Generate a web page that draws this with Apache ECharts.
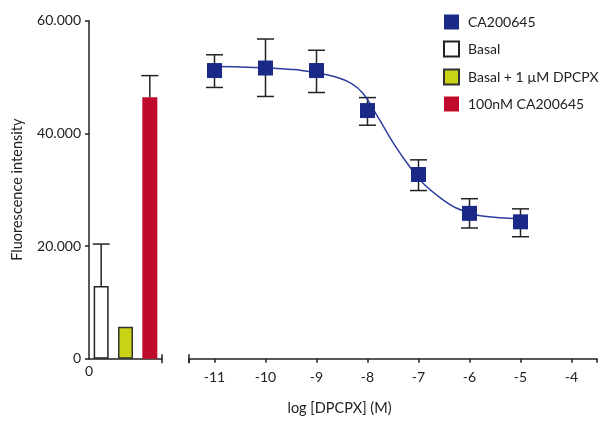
<!DOCTYPE html>
<html>
<head>
<meta charset="utf-8">
<script src="https://cdn.jsdelivr.net/npm/echarts@6/dist/echarts.min.js"></script>
<style>
html,body{margin:0;padding:0;background:#fff;}
#chart{width:600px;height:430px;}
</style>
</head>
<body>
<div id="chart"></div>
<script>
// ---- data ----
const barCategories = ['Basal', 'Basal + 1 µM DPCPX', '100nM CA200645'];
const barValues = [12900, 5650, 46400];
const barErrUpper = [20350, null, 50250];

const logConc = [-11, -10, -9, -8, -7, -6, -5];
const caMean = [51150, 51600, 51150, 44050, 32700, 25800, 24300];
const caErrHigh = [53950, 56750, 54750, 46350, 35300, 28400, 26600];
const caErrLow = [48150, 46550, 47250, 41450, 29850, 23200, 21650];

const fitX = [-11, -10.5, -10, -9.5, -9.29, -9, -8.64, -8.32, -8.09, -7.8, -7.49, -7.15, -6.91, -6.56, -6.25, -5.86, -5.41, -5];
const fitY = [51850, 51800, 51650, 51350, 51180, 50750, 50060, 48890, 47110, 42960, 38240, 33800, 31140, 28470, 26700, 25510, 25030, 24850];

const yTicks = [0, 20000, 40000, 60000];
const seriesName = 'CA200645';

// ---- styles ----
const barColors = ['#ffffff', '#c9d416', '#c00a2b'];
const barBorders = ['#222222', '#333333', '#c00a2b'];
const barBorderWidths = [1.5, 1.5, 0];
const navy = '#1a2a86';
const ink = '#222222';
const FONT = "Lato, 'Open Sans', sans-serif";

function errRender(withLowCap) {
  return function (params, api) {
    const x = api.value(0), lo = api.value(1), hi = api.value(2);
    const pLo = api.coord([x, lo]), pHi = api.coord([x, hi]);
    const w = 8.5;
    const style = { stroke: ink, lineWidth: 1.5 };
    const children = [
      { type: 'line', shape: { x1: pLo[0], y1: pLo[1], x2: pHi[0], y2: pHi[1] }, style },
      { type: 'line', shape: { x1: pHi[0] - w, y1: pHi[1], x2: pHi[0] + w, y2: pHi[1] }, style }
    ];
    if (withLowCap) {
      children.push({ type: 'line', shape: { x1: pLo[0] - w, y1: pLo[1], x2: pLo[0] + w, y2: pLo[1] }, style });
    }
    return { type: 'group', children };
  };
}

const barSeries = barCategories.map((name, i) => ({
  name,
  type: 'bar',
  xAxisIndex: 0,
  yAxisIndex: 0,
  barWidth: 15,
  barGap: '-100%',
  data: barValues.map((v, j) => (j === i ? v : '-')),
  itemStyle: { color: barColors[i], borderColor: barBorders[i], borderWidth: barBorderWidths[i] },
  z: 2
}));

const barErrData = [];
barCategories.forEach((c, i) => {
  if (barErrUpper[i] != null) barErrData.push([i, barValues[i], barErrUpper[i]]);
});

const caErrData = logConc.map((x, i) => [x, caErrLow[i], caErrHigh[i]]);

const chart = echarts.init(document.getElementById('chart'), null, { renderer: 'canvas' });

const axisLineStyle = { color: ink, width: 1.5 };

chart.setOption({
  animation: false,
  backgroundColor: '#ffffff',
  textStyle: { fontFamily: FONT, color: ink },
  legend: {
    orient: 'vertical',
    left: 443,
    top: 14.5,
    padding: 0,
    itemWidth: 15,
    itemHeight: 15,
    itemGap: 11,
    icon: 'rect',
    data: [seriesName].concat(barCategories),
    textStyle: { fontSize: 14, color: ink, fontFamily: FONT, padding: [0, 0, 0, 4] }
  },
  grid: [
    { left: 89, width: 73, top: 20.7, bottom: 71.3 },
    { left: 189, right: 2, top: 20.7, bottom: 71.3 }
  ],
  xAxis: [
    {
      type: 'category',
      gridIndex: 0,
      data: barCategories,
      position: 'bottom',
      axisLine: { lineStyle: axisLineStyle, symbol: ['none', 'rect'], symbolSize: [9, 1.5] },
      axisTick: { show: false },
      axisLabel: { show: false }
    },
    {
      type: 'value',
      gridIndex: 0,
      min: 0,
      max: 1,
      interval: 1,
      position: 'bottom',
      axisLine: { show: false },
      axisTick: { show: false },
      splitLine: { show: false },
      axisLabel: { margin: 6, fontSize: 14, color: ink, fontFamily: FONT, formatter: v => (v === 0 ? '0' : '') }
    },
    {
      type: 'value',
      gridIndex: 1,
      min: -11.5,
      max: -3.5,
      splitNumber: 8,
      position: 'bottom',
      name: 'log [DPCPX] (M)',
      nameLocation: 'middle',
      nameGap: 42,
      nameTextStyle: { fontSize: 14.5, color: ink, fontFamily: FONT, padding: [0, 107, 0, 0] },
      axisLine: { lineStyle: axisLineStyle, symbol: ['rect', 'none'], symbolSize: [9, 1.5] },
      axisTick: { length: 4, lineStyle: { color: ink, width: 1.5 } },
      splitLine: { show: false },
      axisLabel: {
        margin: 12, fontSize: 14, color: ink, fontFamily: FONT,
        formatter: v => (Number.isInteger(v) ? String(v) : '')
      }
    }
  ],
  yAxis: [
    {
      type: 'value',
      gridIndex: 0,
      min: yTicks[0],
      max: yTicks[yTicks.length - 1],
      interval: yTicks[1] - yTicks[0],
      name: 'Fluorescence intensity',
      nameLocation: 'middle',
      nameGap: 64,
      nameTextStyle: { fontSize: 14.5, color: ink, fontFamily: FONT },
      axisLine: { show: true, lineStyle: axisLineStyle },
      axisTick: { show: true, length: 4, lineStyle: { color: ink, width: 1.5 } },
      splitLine: { show: false },
      axisLabel: {
        fontSize: 14, color: ink, fontFamily: FONT,
        formatter: v => (v === 0 ? '0' : (v / 1000) + '.000')
      }
    },
    {
      type: 'value',
      gridIndex: 1,
      min: yTicks[0],
      max: yTicks[yTicks.length - 1],
      interval: yTicks[1] - yTicks[0],
      show: false
    }
  ],
  series: barSeries.concat([
    {
      type: 'custom',
      name: 'barErr',
      xAxisIndex: 0,
      yAxisIndex: 0,
      renderItem: errRender(false),
      encode: { x: 0, y: [1, 2] },
      data: barErrData,
      z: 3
    },
    {
      type: 'custom',
      name: 'caErr',
      xAxisIndex: 2,
      yAxisIndex: 1,
      renderItem: errRender(true),
      encode: { x: 0, y: [1, 2] },
      data: caErrData,
      z: 2
    },
    {
      type: 'line',
      name: 'fit',
      xAxisIndex: 2,
      yAxisIndex: 1,
      smooth: 0.4,
      showSymbol: false,
      symbol: 'none',
      lineStyle: { color: '#2b3c9c', width: 1.5 },
      data: fitX.map((x, i) => [x, fitY[i]]),
      z: 3
    },
    {
      type: 'scatter',
      name: seriesName,
      xAxisIndex: 2,
      yAxisIndex: 1,
      symbol: 'rect',
      symbolSize: 15,
      itemStyle: { color: navy, opacity: 1 },
      data: logConc.map((x, i) => [x, caMean[i]]),
      z: 4
    }
  ])
});
</script>
</body>
</html>
